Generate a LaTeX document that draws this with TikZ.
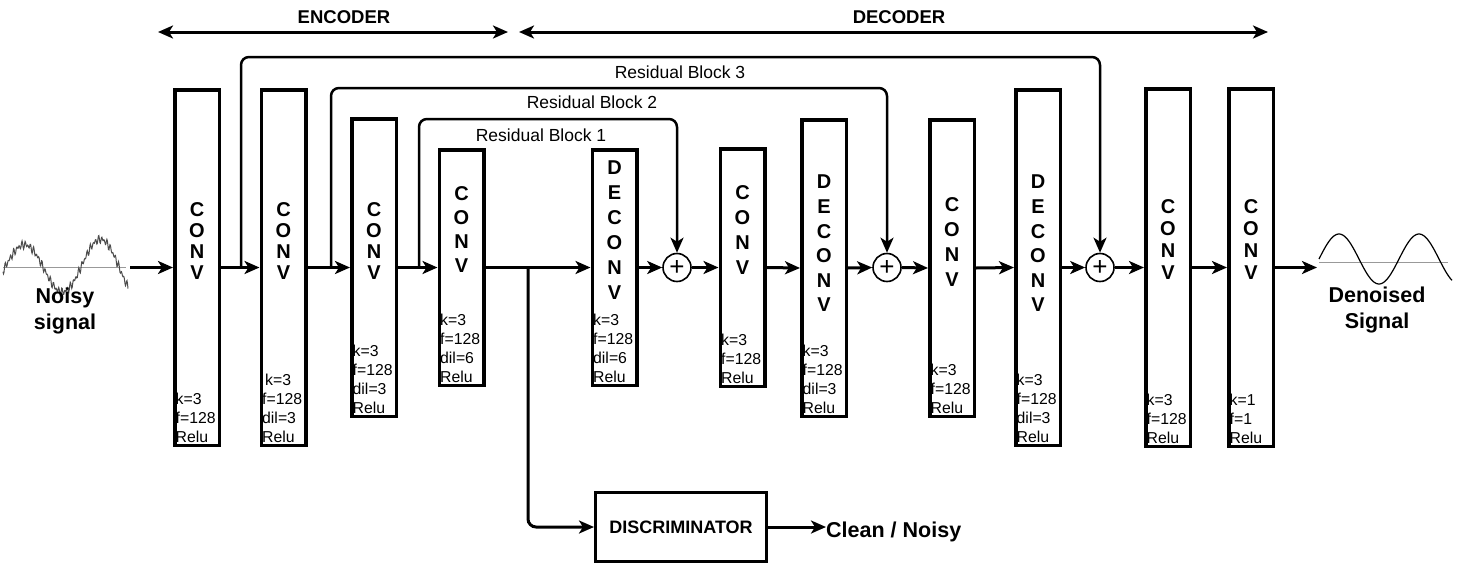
\documentclass[tikz,border=0pt]{standalone}
\usepackage{fontspec}
\setmainfont{Liberation Sans}
\usetikzlibrary{arrows.meta,calc}
\newcommand\mkblk[4]{\node[blkbox, minimum height={#4-#3-3.5}] (#1) at (#2,{(#3+#4)/2}) {};}
\newcommand\mkltr[5]{\node[ltr, font=\bfseries\fontsize{20}{#4}\selectfont] (#1l) at (#2,#3) {#5};}
\newcommand\mkprm[2]{\node[prm] (#1p) at ($(#1.south west)+(2.5,-4)$) {#2};}
\begin{document}
\begin{tikzpicture}[x=1pt,y=-1pt,
  >={Stealth[length=15pt,width=13pt,inset=4pt]},
  blkbox/.style={draw, line width=3.5pt, minimum width=44.5pt, inner sep=0pt},
  ltr/.style={align=center, inner sep=0pt},
  prm/.style={anchor=south west, align=left, inner sep=0pt, font=\fontsize{15.8}{19}\selectfont},
  flow/.style={line width=3pt, ->},
  res/.style={line width=2.5pt, ->, rounded corners=8pt},
  sumnode/.style={draw, circle, line width=1.6pt, minimum size=28pt, inner sep=0pt, font=\fontsize{26}{26}\selectfont},
  reslbl/.style={font=\fontsize{17.5}{20}\selectfont, inner sep=0pt},
  bigbold/.style={font=\bfseries\fontsize{21.5}{26}\selectfont, align=center, inner sep=0pt},
  hdr/.style={font=\bfseries\fontsize{18.5}{20}\selectfont, inner sep=0pt}]
\useasboundingbox (0,0) rectangle (1457,565);

% header arrows
\node[hdr] (enc) at (344,17) {ENCODER};
\node[hdr] (dec) at (899,17) {DECODER};
\coordinate (encL) at (158,32); \coordinate (encR) at (508,32);
\coordinate (decL) at (519,32); \coordinate (decR) at (1268,32);
\draw[line width=3pt, <->] (encL) -- (encR);
\draw[line width=3pt, <->] (decL) -- (decR);

% blocks
\mkblk{b1}{197}{88}{447}
\mkblk{b2}{283.5}{88}{447}
\mkblk{b3}{374}{117}{418}
\mkblk{b4}{461.5}{148}{387}
\mkblk{b5}{614.5}{148}{387}
\mkblk{b6}{742.5}{147}{388}
\mkblk{b7}{824}{118}{418}
\mkblk{b8}{952}{118}{418}
\mkblk{b9}{1038}{88}{447}
\mkblk{b10}{1168}{87}{448}
\mkblk{b11}{1251}{87}{448}

\mkltr{b1}{197}{241}{21}{C\\O\\N\\V}
\mkltr{b2}{283.5}{241}{21}{C\\O\\N\\V}
\mkltr{b3}{374}{241}{21}{C\\O\\N\\V}
\mkltr{b4}{461.5}{230}{24}{C\\O\\N\\V}
\mkltr{b5}{614.5}{230.5}{25}{D\\E\\C\\O\\N\\V}
\mkltr{b6}{742.5}{230.5}{25}{C\\O\\N\\V}
\mkltr{b7}{824}{243.5}{24.6}{D\\E\\C\\O\\N\\V}
\mkltr{b8}{952}{242.5}{25}{C\\O\\N\\V}
\mkltr{b9}{1038}{243.5}{24.6}{D\\E\\C\\O\\N\\V}
\mkltr{b10}{1168}{240}{22}{C\\O\\N\\V}
\mkltr{b11}{1251}{240}{22}{C\\O\\N\\V}

\mkprm{b1}{k=3\\f=128\\Relu}
\mkprm{b2}{\hspace{3pt}k=3\\f=128\\dil=3\\Relu}
\mkprm{b3}{k=3\\f=128\\dil=3\\Relu}
\mkprm{b4}{k=3\\f=128\\dil=6\\Relu}
\mkprm{b5}{k=3\\f=128\\dil=6\\Relu}
\mkprm{b6}{k=3\\f=128\\Relu}
\mkprm{b7}{k=3\\f=128\\dil=3\\Relu}
\mkprm{b8}{k=3\\f=128\\Relu}
\mkprm{b9}{k=3\\f=128\\dil=3\\Relu}
\mkprm{b10}{k=3\\f=128\\Relu}
\mkprm{b11}{k=1\\f=1\\Relu}

% sum nodes
\node[sumnode] (c1) at (677,267.5) {+};
\node[sumnode] (c2) at (887,267.5) {+};
\node[sumnode] (c3) at (1100,267.5) {+};

% input / output signals
\draw[gray!80, line width=0.6pt] (3,267) -- (126,267);
\draw[gray!60!black, line width=1pt] plot[domain=0:125, samples=250]
  ({\x+3}, {267 - (22+0.07*(\x-17))*sin(4.7368*(\x-2)) + 2.5*sin(\x*127) + 2*sin(\x*89+40)});
\node[bigbold] (noisy) at (65,311) {Noisy\\signal};
\draw[gray!80, line width=0.6pt] (1319,262) -- (1448,262);
\draw[line width=1.2pt] plot[domain=0:133, samples=120, smooth]
  ({\x+1319}, {259 - 25*sin(4.5*\x)});
\node[bigbold] (denoised) at (1377,310) {Denoised\\Signal};
\coordinate (nin) at (130,267.5);
\coordinate (nout) at (1317,267.5);

% main flow
\draw[flow] (nin) -- (b1.west);
\draw[flow] (b1.east) -- (b2.west);
\draw[flow] (b2.east) -- (b3.west);
\draw[flow] (b3.east) -- (b4.west);
\draw[flow] (b4.east) -- (b5.west);
\draw[flow] (b5.east) -- (c1.west);
\draw[flow] (c1.east) -- (b6.west);
\draw[flow] (b6.east) -- (b7.west);
\draw[flow] (b7.east) -- (c2.west);
\draw[flow] (c2.east) -- (b8.west);
\draw[flow] (b8.east) -- (b9.west);
\draw[flow] (b9.east) -- (c3.west);
\draw[flow] (c3.east) -- (b10.west);
\draw[flow] (b10.east) -- (b11.west);
\draw[flow] (b11.east) -- (nout);

% residual connections
\coordinate (r3s) at (241,267.5);
\coordinate (r2s) at (331,267.5);
\coordinate (r1s) at (419,267.5);
\draw[res] (r3s) |- (1100,57) -- (c3.north);
\draw[res] (r2s) |- (887,88) -- (c2.north);
\draw[res] (r1s) |- (677,119) -- (c1.north);
\node[reslbl] (r3l) at (680,72) {Residual Block 3};
\node[reslbl] (r2l) at (592,102) {Residual Block 2};
\node[reslbl] (r1l) at (541,135) {Residual Block 1};

% discriminator
\node[draw, line width=3pt, minimum width=171pt, minimum height=69pt, inner sep=0pt,
      font=\bfseries\fontsize{18}{20}\selectfont] (disc) at (681,527) {DISCRIMINATOR};
\coordinate (br) at (528,267.5);
\draw[flow, rounded corners=8pt] (br) |- (disc.west);
\node[font=\bfseries\fontsize{21.5}{24}\selectfont, anchor=west, inner sep=0pt] (clean) at (826,532) {Clean / Noisy};
\draw[flow] (disc.east) -- (disc.east -| clean.west);
\end{tikzpicture}
\end{document}
